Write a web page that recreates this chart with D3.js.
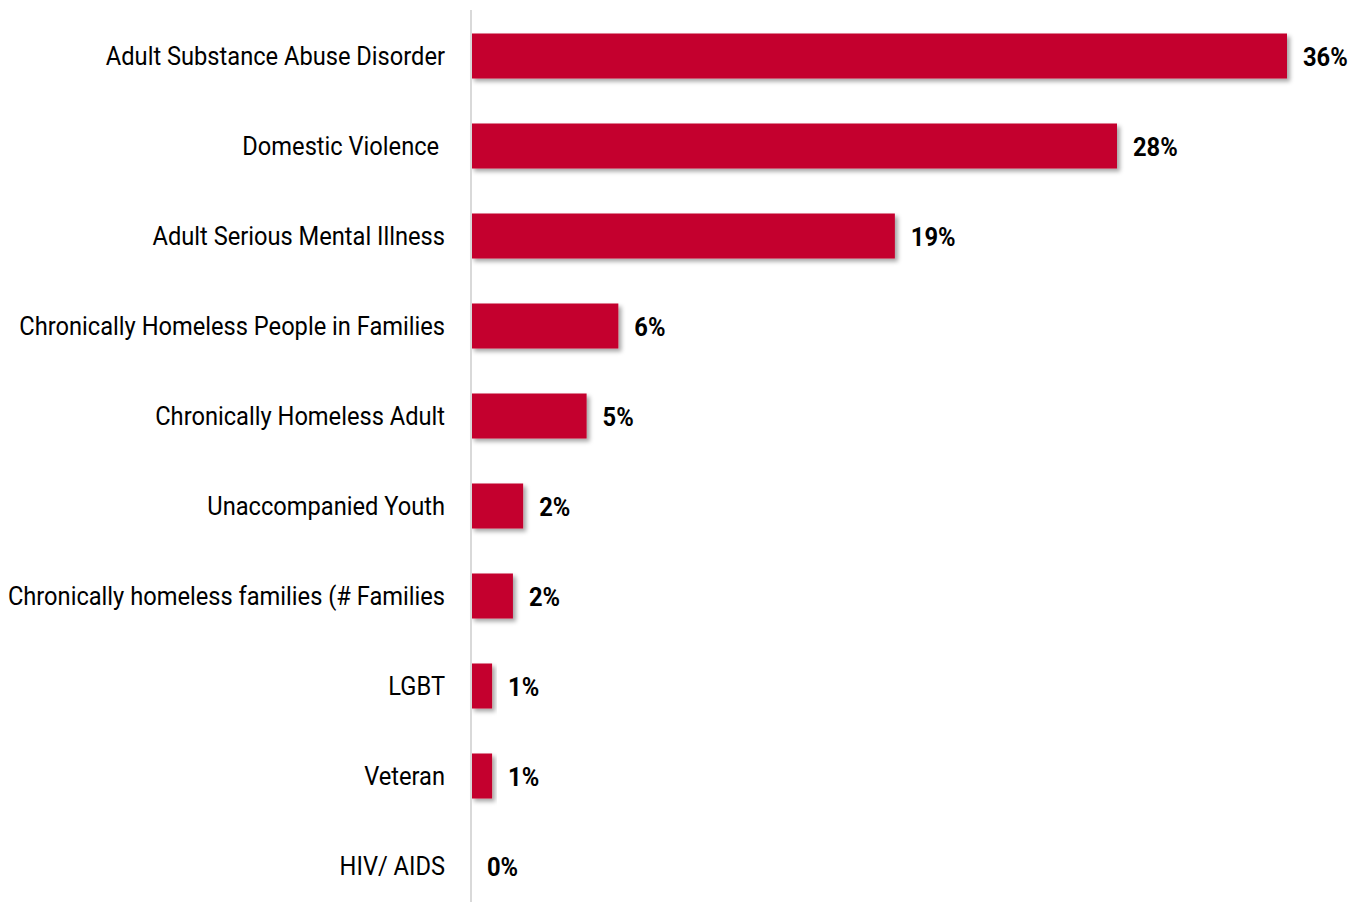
<!DOCTYPE html>
<html>
<head>
<meta charset="utf-8">
<script src="https://cdn.jsdelivr.net/npm/d3@7"></script>
<style>
body { margin: 0; background: #fff; }
svg { display: block; }
</style>
</head>
<body>
<svg id="chart"></svg>
<script>
var categories = [
	'Adult Substance Abuse Disorder',
	'Domestic Violence ',
	'Adult Serious Mental Illness',
	'Chronically Homeless People in Families',
	'Chronically Homeless Adult',
	'Unaccompanied Youth',
	'Chronically homeless families (# Families',
	'LGBT',
	'Veteran',
	'HIV/ AIDS'
];
var values = [36, 28.5, 18.7, 6.5, 5.1, 2.3, 1.85, 0.93, 0.93, 0];
var valueLabels = ['36%', '28%', '19%', '6%', '5%', '2%', '2%', '1%', '1%', '0%'];

var svgWidth = 1360;
var svgHeight = 902;
var axisX = 471;

var data = categories.map((c, i) => ({name: c, value: values[i], label: valueLabels[i]}));

var svg = d3.select('#chart')
	.attr('width', svgWidth)
	.attr('height', svgHeight);

var defs = svg.append('defs');
var filter = defs.append('filter')
	.attr('id', 'shadow')
	.attr('x', '-10%').attr('y', '-20%')
	.attr('width', '130%').attr('height', '160%');
filter.append('feDropShadow')
	.attr('dx', 3).attr('dy', 3)
	.attr('stdDeviation', 2)
	.attr('flood-color', '#000')
	.attr('flood-opacity', 0.35);

var xScale = d3.scaleLinear()
	.domain([0, 36])
	.range([axisX, 1287]);
var yScale = d3.scaleBand()
	.domain(categories)
	.range([11, 911])
	.paddingInner(0.5)
	.paddingOuter(0.25);

svg.selectAll('rect.bar')
	.data(data)
	.enter()
	.append('rect')
	.attr('class', 'bar')
	.attr('x', xScale(0))
	.attr('y', d => yScale(d.name))
	.attr('width', d => xScale(d.value) - xScale(0))
	.attr('height', yScale.bandwidth())
	.attr('fill', '#c4002f')
	.attr('filter', d => d.value > 0 ? 'url(#shadow)' : null);

svg.append('line')
	.attr('x1', axisX).attr('x2', axisX)
	.attr('y1', 10).attr('y2', svgHeight)
	.attr('stroke', '#d9d9d9')
	.attr('stroke-width', 2);

svg.selectAll('text.cat')
	.data(data)
	.enter()
	.append('text')
	.attr('class', 'cat')
	.attr('transform', d => `translate(445,${yScale(d.name) + yScale.bandwidth() / 2}) scale(0.91,1)`)
	.attr('text-anchor', 'end')
	.attr('dy', '0.35em')
	.attr('font-family', 'Roboto, sans-serif')
	.attr('font-size', 26)
	.attr('fill', '#000')
	.style('white-space', 'pre')
	.text(d => d.name);

svg.selectAll('text.val')
	.data(data)
	.enter()
	.append('text')
	.attr('class', 'val')
	.attr('transform', d => `translate(${xScale(d.value) + 16},${yScale(d.name) + yScale.bandwidth() / 2 + 1}) scale(0.95,1)`)
	.attr('dy', '0.35em')
	.attr('font-family', 'Roboto, sans-serif')
	.attr('font-weight', 'bold')
	.attr('font-size', 25)
	.attr('fill', '#000')
	.text(d => d.label);
</script>
</body>
</html>
